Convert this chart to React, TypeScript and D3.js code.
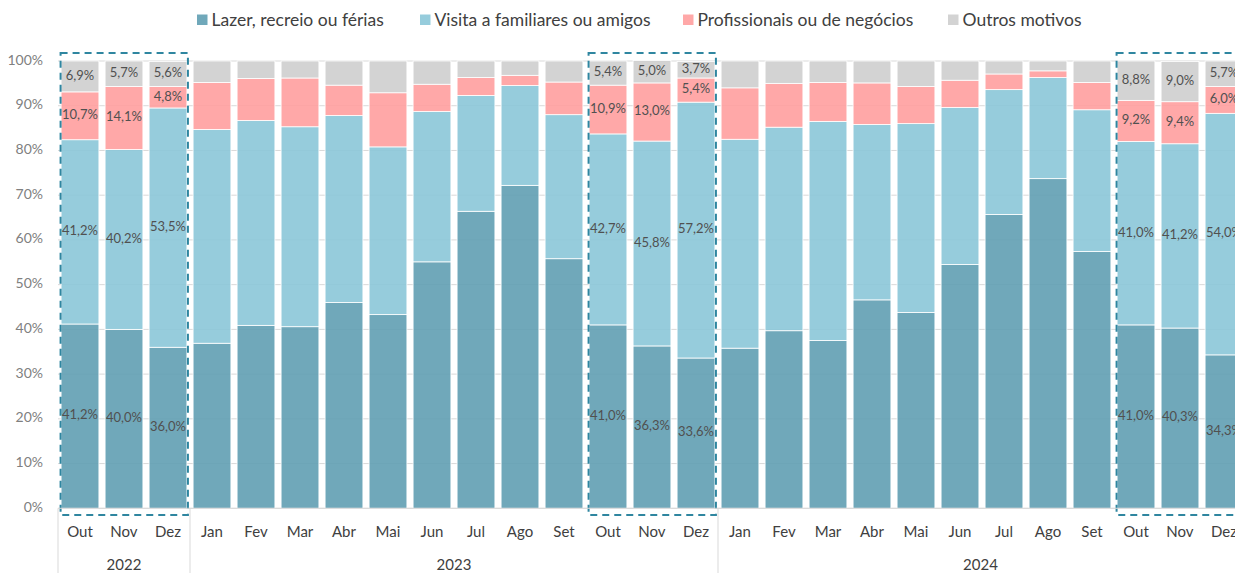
import React, { useEffect, useRef } from "react";
import * as d3 from "d3";

const W = 1235;
const H = 573;

const months = [
  "Out", "Nov", "Dez",
  "Jan", "Fev", "Mar", "Abr", "Mai", "Jun", "Jul", "Ago", "Set", "Out", "Nov", "Dez",
  "Jan", "Fev", "Mar", "Abr", "Mai", "Jun", "Jul", "Ago", "Set", "Out", "Nov", "Dez",
];
const years = ["2022", "2023", "2024"];
const yearSizes = [3, 12, 12];

const lazer = [41.2, 40.0, 36.0, 36.9, 40.9, 40.6, 46.0, 43.3, 55.1, 66.4, 72.2, 55.8, 41.0, 36.3, 33.6, 35.8, 39.7, 37.5, 46.6, 43.8, 54.5, 65.7, 73.7, 57.4, 41.0, 40.3, 34.3];
const visita = [41.2, 40.2, 53.5, 47.8, 45.8, 44.7, 41.8, 37.5, 33.6, 25.9, 22.3, 32.2, 42.7, 45.8, 57.2, 46.7, 45.5, 49.0, 39.2, 42.2, 35.1, 27.9, 22.6, 31.7, 41.0, 41.2, 54.0];
const profissionais = [10.7, 14.1, 4.8, 10.5, 9.4, 10.9, 6.8, 12.1, 6.1, 4.0, 2.3, 7.3, 10.9, 13.0, 5.4, 11.5, 9.8, 8.7, 9.3, 8.3, 6.1, 3.5, 1.5, 6.1, 9.2, 9.4, 6.0];
const outros = [6.9, 5.7, 5.6, 4.8, 3.9, 3.8, 5.4, 7.1, 5.2, 3.7, 3.2, 4.7, 5.4, 5.0, 3.7, 6.0, 5.0, 4.8, 4.9, 5.7, 4.3, 2.9, 2.2, 4.8, 8.8, 9.0, 5.7];

const seriesNames = ["Lazer, recreio ou férias", "Visita a familiares ou amigos", "Profissionais ou de negócios", "Outros motivos"];
const seriesColors = ["#609FB2", "#8BC7D8", "#FF9E9F", "#CECECE"];
const legendX = [197, 420, 683, 948];

// the dashed boxes: Out-Dez of each year
const highlighted = [[0, 2], [12, 14], [24, 26]];

const font = "Lato, 'Open Sans', sans-serif";
const fmt = (v) => v.toFixed(1).replace(".", ",") + "%";

const Chart = () => {
  const ref = useRef(null);

  useEffect(() => {
    const svg = d3.select(ref.current);
    svg.selectAll("*").remove();

    const margin = { top: 61, bottom: 65, left: 58 };
    const y0 = H - margin.bottom + 0.3;
    const keys = months.map((m, i) => i);

    const x = d3.scaleBand().domain(keys).range([margin.left, margin.left + 44 * 27]).paddingInner(0.14).paddingOuter(0.07);
    const y = d3.scaleLinear().domain([0, 100]).range([y0, margin.top]);

    const rows = keys.map((i) => ({ i, s0: lazer[i], s1: visita[i], s2: profissionais[i], s3: outros[i] }));
    const stack = d3.stack().keys(["s0", "s1", "s2", "s3"])(rows);

    // grid
    svg.append("g")
      .selectAll("line")
      .data(d3.range(0, 101, 10))
      .enter()
      .append("line")
      .attr("x1", margin.left)
      .attr("x2", W)
      .attr("y1", (d) => y(d))
      .attr("y2", (d) => y(d))
      .attr("stroke", "#d9d9d9")
      .attr("stroke-width", 1);

    svg.append("g")
      .selectAll("text")
      .data(d3.range(0, 101, 10))
      .enter()
      .append("text")
      .attr("x", 43)
      .attr("y", (d) => y(d))
      .attr("text-anchor", "end")
      .attr("dominant-baseline", "middle")
      .attr("font-family", font)
      .attr("font-size", 14)
      .attr("fill", "#808080")
      .text((d) => d + "%");

    // bars
    const layers = svg.append("g")
      .selectAll("g")
      .data(stack)
      .enter()
      .append("g")
      .attr("fill", (d, k) => seriesColors[k])
      .attr("fill-opacity", 0.9);

    layers
      .selectAll("rect")
      .data((d) => d)
      .enter()
      .append("rect")
      .attr("x", (d) => x(d.data.i))
      .attr("width", x.bandwidth())
      .attr("y", (d) => y(d[1]))
      .attr("height", (d) => y(d[0]) - y(d[1]))
      .attr("stroke", "#fff")
      .attr("stroke-width", 0.8);

    // data labels for highlighted months
    const shown = new Set();
    highlighted.forEach(([a, b]) => d3.range(a, b + 1).forEach((i) => shown.add(i)));

    stack.forEach((layer) => {
      svg.append("g")
        .selectAll("text")
        .data(layer.filter((d) => shown.has(d.data.i)))
        .enter()
        .append("text")
        .attr("x", (d) => x(d.data.i) + x.bandwidth() / 2)
        .attr("y", (d) => y((d[0] + d[1]) / 2))
        .attr("text-anchor", "middle")
        .attr("dominant-baseline", "middle")
        .attr("font-family", font)
        .attr("font-size", 13)
        .attr("fill", "#505050")
        .text((d) => fmt(d[1] - d[0]));
    });

    // dashed boxes
    svg.append("g")
      .selectAll("rect")
      .data(highlighted)
      .enter()
      .append("rect")
      .attr("x", (d) => x(d[0]) - 0.5)
      .attr("y", 53)
      .attr("width", (d) => x(d[1]) + x.bandwidth() - x(d[0]) + 1.5)
      .attr("height", 515 - 53)
      .attr("fill", "none")
      .attr("stroke", "#2F86A0")
      .attr("stroke-width", 2)
      .attr("stroke-dasharray", "7,5");

    // x axis
    svg.append("line")
      .attr("x1", margin.left)
      .attr("x2", W)
      .attr("y1", y0)
      .attr("y2", y0)
      .attr("stroke", "#d9d9d9");

    svg.append("g")
      .selectAll("text")
      .data(keys)
      .enter()
      .append("text")
      .attr("x", (i) => x(i) + x.bandwidth() / 2)
      .attr("y", 537)
      .attr("text-anchor", "middle")
      .attr("font-family", font)
      .attr("font-size", 15)
      .attr("fill", "#404040")
      .text((i) => months[i]);

    // year groups
    let start = 0;
    years.forEach((yr, k) => {
      const left = x(start) - x.step() * x.paddingOuter();
      const end = start + yearSizes[k] - 1;
      const right = x(end) + x.bandwidth() + x.step() * x.paddingOuter();
      svg.append("line")
        .attr("x1", left)
        .attr("x2", left)
        .attr("y1", y0)
        .attr("y2", H)
        .attr("stroke", "#d9d9d9");
      svg.append("text")
        .attr("x", (left + Math.min(right, W + 8)) / 2)
        .attr("y", 570)
        .attr("text-anchor", "middle")
        .attr("font-family", font)
        .attr("font-size", 15)
        .attr("fill", "#404040")
        .text(yr);
      start = end + 1;
    });

    // legend
    const legend = svg.append("g")
      .selectAll("g")
      .data(seriesNames)
      .enter()
      .append("g")
      .attr("transform", (d, k) => `translate(${legendX[k]}, 0)`);
    legend.append("rect")
      .attr("x", 0)
      .attr("y", 14.5)
      .attr("width", 10.5)
      .attr("height", 10.5)
      .attr("fill", (d, k) => seriesColors[k])
      .attr("fill-opacity", 0.9);
    legend.append("text")
      .attr("x", 14.5)
      .attr("y", 25.5)
      .attr("font-family", font)
      .attr("font-size", 17.5)
      .attr("fill", "#404040")
      .text((d) => d);
  }, []);

  return <svg ref={ref} width={W} height={H} style={{ position: "absolute", left: 0, top: 0, background: "#fff" }}></svg>;
};

export default function App() {
  return (
    <div>
      <Chart />
    </div>
  );
}
